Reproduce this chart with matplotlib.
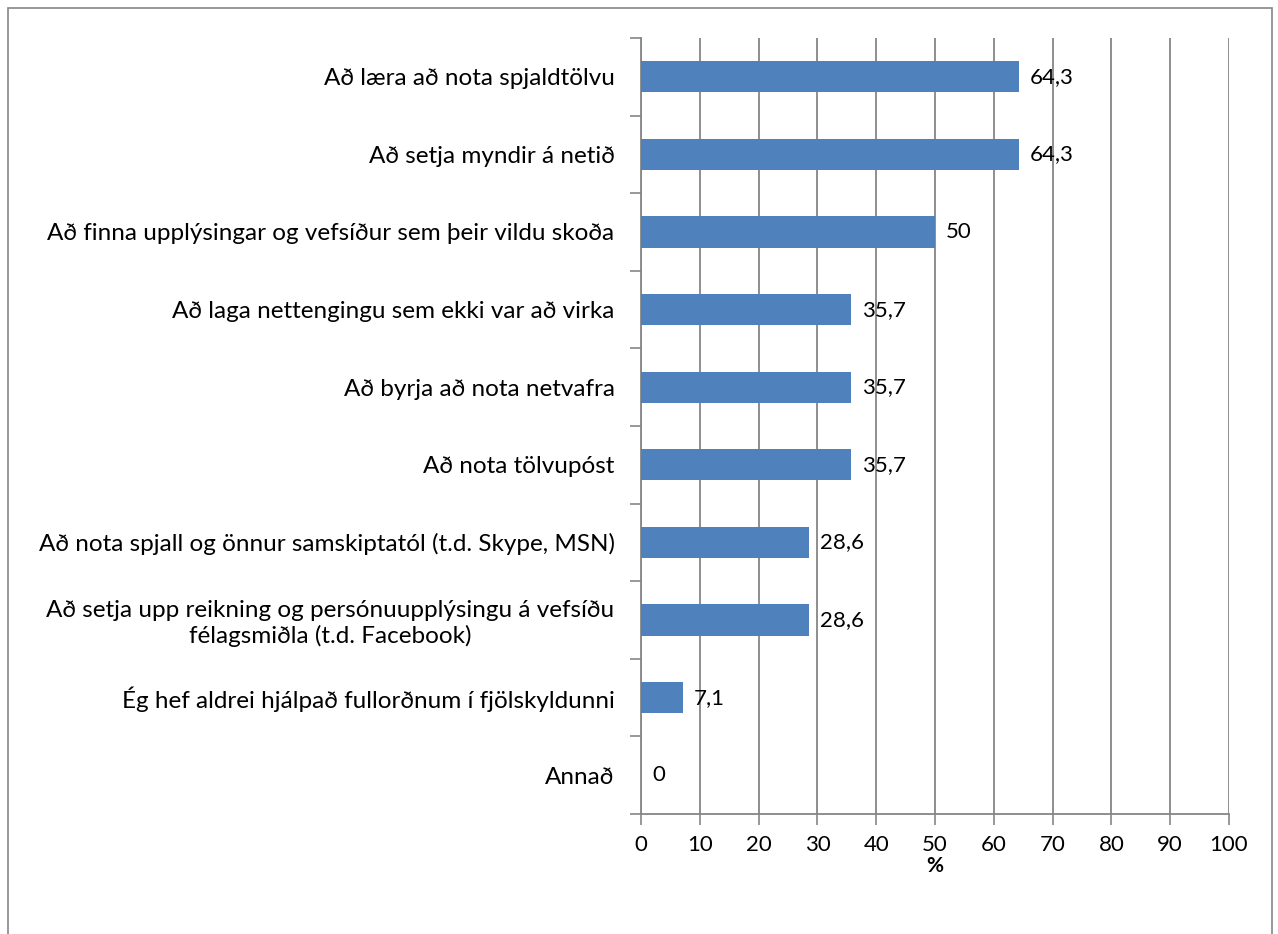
import matplotlib.pyplot as plt
from matplotlib.patches import Rectangle

plt.rcParams['font.family'] = ['Lato', 'DejaVu Sans']

# Gögn (efst í flokkaröð)
flokkar = [
    'Að læra að nota spjaldtölvu',
    'Að setja myndir á netið',
    'Að finna upplýsingar og vefsíður sem þeir vildu skoða',
    'Að laga nettengingu sem ekki var að virka',
    'Að byrja að nota netvafra',
    'Að nota tölvupóst',
    'Að nota spjall og önnur samskiptatól (t.d. Skype, MSN)',
    'Að setja upp reikning og persónuupplýsingu á vefsíðu\nfélagsmiðla (t.d. Facebook)',
    'Ég hef aldrei hjálpað fullorðnum í fjölskyldunni',
    'Annað',
]
gildi = [64.3, 64.3, 50, 35.7, 35.7, 35.7, 28.6, 28.6, 7.1, 0]
x_merki = [0, 10, 20, 30, 40, 50, 60, 70, 80, 90, 100]

fig = plt.figure(figsize=(12.78, 9.34), dpi=100)
ax = fig.add_axes([641 / 1278, 1 - 814 / 934, 588 / 1278, 776 / 934])

y = list(range(len(flokkar)))
ax.barh(y, gildi, height=0.4, color='#4F81BD', zorder=3)

# gildismerki
for yi, v in zip(y, gildi):
    texti = f'{v:g}'.replace('.', ',')
    ax.annotate(texti, (v, yi), xytext=(11, 0), textcoords='offset pixels',
                va='center', ha='left', fontsize=16, zorder=4)

ax.set_xlim(0, 100)
ax.set_ylim(len(flokkar) - 0.5, -0.5)
ax.set_xticks(x_merki)
ax.set_xticklabels([str(t) for t in x_merki], fontsize=16)
ax.set_yticks(y)
ax.set_yticklabels(flokkar, fontsize=17.5, multialignment='center')
ax.set_yticks([i - 0.5 for i in range(len(flokkar) + 1)], minor=True)
ax.tick_params(axis='y', which='major', length=0, pad=19)
ax.tick_params(axis='y', which='minor', length=8, width=1.2, color='#868686')
ax.tick_params(axis='x', length=8, width=1.2, color='#868686', pad=7)
ax.set_xlabel('%', fontsize=15, fontweight='bold', labelpad=1)

ax.grid(axis='x', color='#868686', linewidth=1.3, zorder=0)
for s in ['top', 'right']:
    ax.spines[s].set_visible(False)
for s in ['left', 'bottom']:
    ax.spines[s].set_color('#868686')
    ax.spines[s].set_linewidth(1.3)

# rammi utan um myndina
fig.patches.append(Rectangle((8 / 1278, -0.02), 1264 / 1278, 1 - 8 / 934 + 0.02,
                             transform=fig.transFigure, fill=False,
                             edgecolor='#868686', linewidth=1.2))

fig.savefig('out.png', dpi=100)
